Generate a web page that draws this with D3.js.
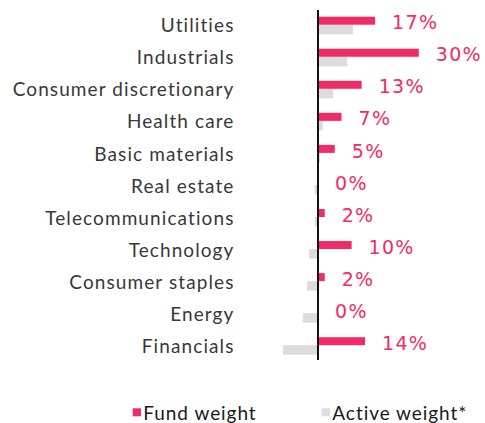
<!DOCTYPE html>
<html>
<head>
<meta charset="utf-8">
<script src="https://cdn.jsdelivr.net/npm/d3@7/dist/d3.min.js"></script>
<style>
  html, body { margin: 0; padding: 0; background: #fff; }
  svg { display: block; }
</style>
</head>
<body>
<svg id="chart" width="485" height="423"></svg>
<script>
// Sector weights (%)
const sectors = ["Utilities", "Industrials", "Consumer discretionary", "Health care",
  "Basic materials", "Real estate", "Telecommunications", "Technology",
  "Consumer staples", "Energy", "Financials"];
const fundWeight = [17, 30, 13, 7, 5, 0, 2, 10, 2, 0, 14];
const activeWeight = [10.4, 8.7, 4.5, 1.4, 0.6, -1, -1, -2.7, -3.3, -4.5, -10.4];
const seriesNames = ["Fund weight", "Active weight*"];

const pink = "#f22a66";
const grey = "#dcdcdc";

const svg = d3.select("#chart");

const x = d3.scaleLinear().domain([-15, 35]).range([318 - 15 * 3.36, 318 + 35 * 3.36]);
const y = d3.scaleBand().domain(sectors).range([8.7, 8.7 + 11 * 32.05]).padding(0);

const rows = svg.append("g").selectAll("g.row")
  .data(sectors.map((s, i) => ({ s, f: fundWeight[i], a: activeWeight[i] })))
  .join("g").attr("class", "row");

// active weight bars (grey)
rows.append("rect")
  .attr("x", d => x(Math.min(0, d.a)))
  .attr("y", d => y(d.s) + 16)
  .attr("width", d => Math.abs(x(d.a) - x(0)))
  .attr("height", 9.5)
  .attr("fill", grey);

// fund weight bars (pink)
rows.append("rect")
  .attr("x", x(0))
  .attr("y", d => y(d.s) + 8)
  .attr("width", d => x(d.f) - x(0))
  .attr("height", 8)
  .attr("fill", pink);

// value labels
rows.append("text")
  .attr("x", d => x(d.f) + 17)
  .attr("y", d => y(d.s) + 20.6)
  .attr("fill", pink)
  .attr("font-family", "DejaVu Sans, Verdana, sans-serif")
  .attr("font-size", 19)
  .attr("letter-spacing", 1.3)
  .text(d => d.f + "%");

// category labels
rows.append("text")
  .attr("x", 234.5)
  .attr("y", d => y(d.s) + 23.6)
  .attr("text-anchor", "end")
  .attr("fill", "#383838")
  .attr("font-family", "Lato, sans-serif")
  .attr("font-size", 19)
  .attr("letter-spacing", 1.1)
  .text(d => d.s);

// zero axis
svg.append("line")
  .attr("x1", x(0)).attr("x2", x(0))
  .attr("y1", 10).attr("y2", 360)
  .attr("stroke", "#111").attr("stroke-width", 2);

// legend
const legend = svg.append("g");
const legendX = [132.7, 321.7];
const legendCol = [pink, grey];
seriesNames.forEach((name, i) => {
  legend.append("rect")
    .attr("x", legendX[i]).attr("y", 408.3)
    .attr("width", 8.3).attr("height", 8)
    .attr("fill", legendCol[i]);
  legend.append("text")
    .attr("x", legendX[i] + 10.6).attr("y", 420)
    .attr("fill", "#1a1a1a")
    .attr("font-family", "Lato, sans-serif")
    .attr("font-size", 19)
    .attr("letter-spacing", 0.95)
    .text(name);
});
</script>
</body>
</html>
